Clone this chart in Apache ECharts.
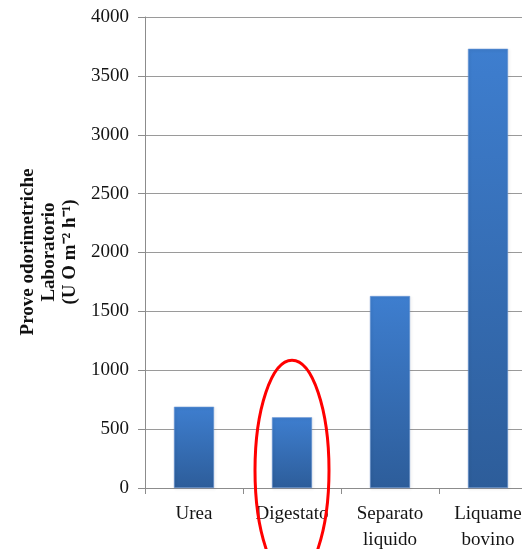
<!DOCTYPE html>
<html>
<head>
<meta charset="utf-8">
<script src="https://cdn.jsdelivr.net/npm/echarts@6/dist/echarts.min.js"></script>
<style>
  html, body { margin: 0; padding: 0; background: #ffffff; overflow: hidden; }
  #chart { width: 537px; height: 549px; }
</style>
</head>
<body>
<div id="chart"></div>
<script>
// Odour emission rates measured in laboratory tests, by substrate
var categories = ['Urea', 'Digestato', 'Separato\nliquido', 'Liquame\nbovino'];
var odourValues = [690, 600, 1630, 3730];
var yTicks = { min: 0, max: 4000, interval: 500 };
var yTitleLines = ['Prove odorimetriche', 'Laboratorio', '(U O m\u207B\u00B2 h\u207B\u00B9)'];

var serif = '"Liberation Serif", "Times New Roman", serif';
var chart = echarts.init(document.getElementById('chart'), null, { renderer: 'canvas' });

chart.setOption({
  animation: false,
  backgroundColor: '#ffffff',
  grid: {
    left: 145, top: 17, right: 0, height: 471,
    containLabel: false, outerBoundsMode: 'none'
  },
  xAxis: {
    type: 'category',
    data: categories,
    boundaryGap: true,
    axisLine: { show: true, lineStyle: { color: '#8c8c8c', width: 1 } },
    axisTick: { show: true, length: 6, lineStyle: { color: '#8c8c8c' } },
    axisLabel: {
      color: '#141414', fontFamily: serif, fontSize: 19,
      lineHeight: 26, margin: 13, interval: 0
    },
    splitLine: { show: false }
  },
  yAxis: {
    type: 'value',
    min: yTicks.min, max: yTicks.max, interval: yTicks.interval,
    axisLine: { show: true, lineStyle: { color: '#8c8c8c', width: 1 } },
    axisTick: { show: true, length: 7, lineStyle: { color: '#8c8c8c' } },
    axisLabel: {
      color: '#141414', fontFamily: serif, fontSize: 19, margin: 16,
      formatter: function (v) { return String(v); }
    },
    splitLine: { show: true, lineStyle: { color: '#9a9a9a', width: 1 } }
  },
  series: [{
    type: 'bar',
    data: odourValues,
    barWidth: 40,
    itemStyle: {
      color: new echarts.graphic.LinearGradient(0, 0, 0, 1, [
        { offset: 0, color: '#3e7ecf' },
        { offset: 1, color: '#2d5d9a' }
      ]),
      borderColor: 'rgba(110,155,215,0.6)',
      borderWidth: 0.5,
      shadowColor: 'rgba(0,0,0,0.3)',
      shadowBlur: 3,
      shadowOffsetX: 1,
      shadowOffsetY: 1
    }
  }]
});

// Rotated three-line axis title and the red ring around the digestate bar
var ringCenter = chart.convertToPixel({ xAxisIndex: 0, yAxisIndex: 0 }, [categories[1], 150]);
chart.setOption({
  graphic: [
    {
      type: 'text',
      x: 49, y: 252,
      rotation: Math.PI / 2,
      style: {
        text: yTitleLines.join('\n'),
        fontFamily: serif, fontSize: 19, fontWeight: 'bold',
        lineHeight: 21, fill: '#111111',
        align: 'center', verticalAlign: 'middle'
      }
    },
    {
      type: 'ellipse',
      shape: { cx: ringCenter[0], cy: ringCenter[1], rx: 37, ry: 110 },
      style: { fill: 'none', stroke: '#ff0000', lineWidth: 3 },
      z: 100
    }
  ]
});
</script>
</body>
</html>
